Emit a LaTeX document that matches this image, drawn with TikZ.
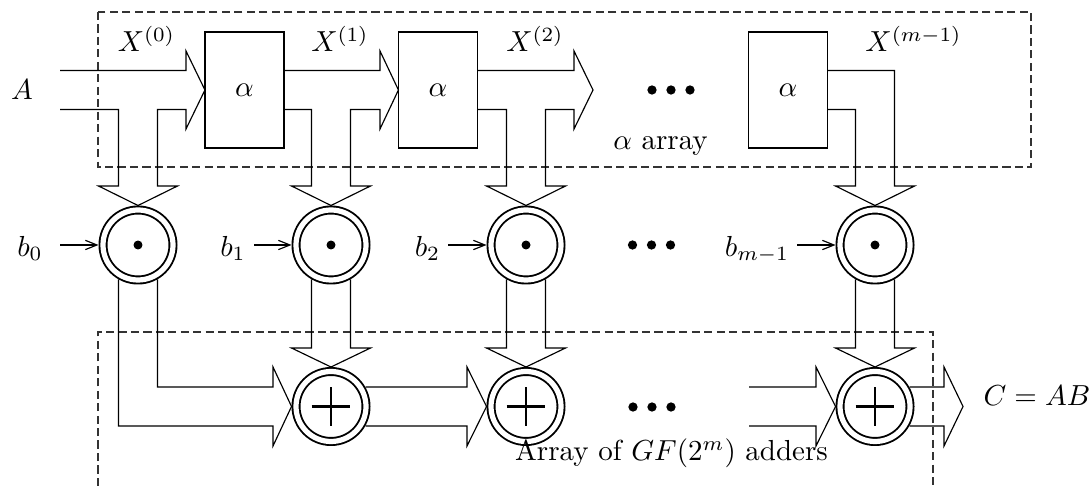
\documentclass[tikz,border=0pt]{standalone}
\usepackage{tikz}
\usetikzlibrary{arrows.meta}
\tikzset{
  zone/.style={draw=black!80, line width=0.4pt, dash pattern=on 2.8pt off 1.5pt},
  bus/.style={draw=black, line width=0.4pt, line join=miter},
  cell/.style={draw, line width=0.5pt, minimum width=27.3pt, minimum height=40pt, inner sep=0pt, outer sep=0pt},
  mult/.style={circle, draw, line width=0.65pt, double, double distance=1.8pt, minimum size=24.15pt, inner sep=0pt, outer sep=1.55pt},
  tap/.style={draw, line width=0.4pt, -{Straight Barb[length=4pt,width=3.2pt]}},
  lab/.style={inner sep=0pt, anchor=base},
}
\begin{document}
\begin{tikzpicture}[x=0.345pt, y=-0.345pt]
  \useasboundingbox (0,0) rectangle (1092,486);

  % the two groups
  \draw[zone] (98,12) rectangle (1031,167);
  \draw[zone] (98,486) -- (98,332) -- (933,332) -- (933,486);

  % alpha cells
  \node[cell] (a1) at (244.5,90) {$\alpha$};
  \node[cell] (a2) at (438,90) {$\alpha$};
  \node[cell] (a3) at (788,90) {$\alpha$};
  \coordinate (xopen) at (593,90);

  % multipliers and adders
  \foreach \n/\x in {0/138, 1/331, 2/526, 3/875} {
    \node[mult] (m\n) at (\x,245) {};
    \fill (m\n.center) circle (1.55pt);
  }
  \foreach \n/\x in {1/331, 2/526, 3/875} {
    \node[mult] (s\n) at (\x,406.5) {};
    \draw[line width=0.7pt] ([xshift=-6.7pt]s\n.center) -- ([xshift=6.7pt]s\n.center)
      ([yshift=-6.7pt]s\n.center) -- ([yshift=6.7pt]s\n.center);
  }

  % X buses, each tapped down into a multiplier
  \foreach \l/\c/\h/\tip/\m in {60/138/186/a1.west/m0, 284/331/380/a2.west/m1, 477/526/574/xopen/m2} {
    \draw[bus] (\l,70.5) -- (\h,70.5) -- (\h,51) -- (\tip) -- (\h,129) -- (\h,109.5)
      -- (\c+19.5,109.5) -- (\c+19.5,186) -- (\c+39.5,186) -- (\m.north)
      -- (\c-39.5,186) -- (\c-19.5,186) -- (\c-19.5,109.5) -- (\l,109.5);
  }
  \draw[bus] (827,70.5) -- (894.5,70.5) -- (894.5,186) -- (914.5,186) -- (m3.north)
    -- (835.5,186) -- (855.5,186) -- (855.5,109.5) -- (827,109.5);

  % products down into the adders
  \draw[bus] (157.5,279.5) -- (157.5,387) -- (273,387) -- (273,367) -- (s1.west)
    -- (273,446) -- (273,426) -- (118.5,426) -- (118.5,279.5);
  \foreach \m/\s/\c in {m1/s1/331, m2/s2/526, m3/s3/875} {
    \draw[bus] (\c-19.5,279.5) -- (\c-19.5,348) -- (\c-39.5,348) -- (\s.north)
      -- (\c+39.5,348) -- (\c+19.5,348) -- (\c+19.5,279.5);
  }

  % sums along the adder row
  \coordinate (cout) at (963,406.5);
  \draw[bus] (365.5,387) -- (467,387) -- (467,367) -- (s2.west) -- (467,446) -- (467,426) -- (365.5,426);
  \draw[bus] (749,387) -- (816,387) -- (816,367) -- (s3.west) -- (816,446) -- (816,426) -- (749,426);
  \draw[bus] (909.5,387) -- (944,387) -- (944,367) -- (cout) -- (944,446) -- (944,426) -- (909.5,426);

  % b inputs
  \foreach \n/\x/\lx/\t in {0/60/30/b_0, 1/254/233/b_1, 2/448/427.5/b_2, 3/797/757/b_{m-1}} {
    \node[lab] (b\n) at (\lx,256.5) {$\t$};
    \draw[tap] (\x,245) -- (m\n.west);
  }

  % ellipses
  \foreach \d in {-19,0,19} {
    \fill (671+\d,90) circle (1.6pt);
    \fill (651.5+\d,245) circle (1.6pt);
    \fill (652+\d,407) circle (1.6pt);
  }

  % labels
  \node[lab] (inA) at (22,100) {$A$};
  \node[lab] (x0) at (146.5,52) {$X^{(0)}$};
  \node[lab] (x1) at (340,52) {$X^{(1)}$};
  \node[lab] (x2) at (535,52) {$X^{(2)}$};
  \node[lab] (x3) at (913.5,52) {$X^{(m-1)}$};
  \node[lab] (top) at (660.5,150) {$\alpha$ array};
  \node[lab] (bot) at (671.5,461) {Array of $GF(2^m)$ adders};
  \node[lab, anchor=base west] (outC) at (983,406) {$C=AB$};
\end{tikzpicture}
\end{document}
